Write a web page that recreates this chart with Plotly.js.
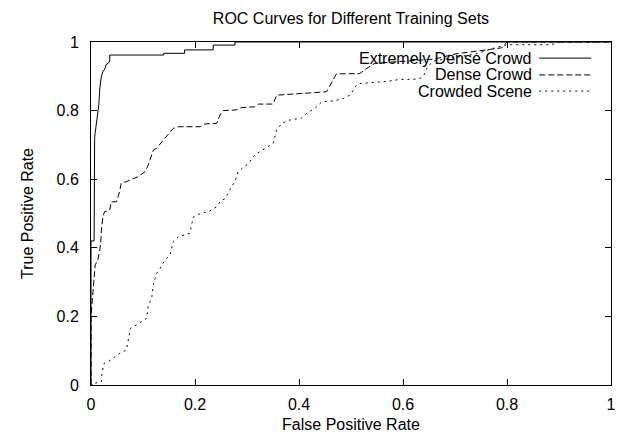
<!DOCTYPE html>
<html>
<head>
<meta charset="utf-8">
<script src="https://cdn.plot.ly/plotly-3.0.1.min.js"></script>
<style>html,body{margin:0;padding:0;background:#fff}#chart{width:619px;height:436px}</style>
</head>
<body>
<div id="chart"></div>
<script>
var seriesNames = ["Extremely Dense Crowd", "Dense Crowd", "Crowded Scene"];

var extremeFPR = [0, 0, 0.006, 0.006, 0.007, 0.008, 0.010, 0.012, 0.013, 0.015, 0.017, 0.018, 0.020, 0.023, 0.026, 0.029, 0.034, 0.036, 0.036, 0.14, 0.14, 0.18, 0.18, 0.235, 0.235, 0.277, 0.277, 1];
var extremeTPR = [0, 0.42, 0.42, 0.66, 0.72, 0.735, 0.759, 0.798, 0.808, 0.817, 0.866, 0.885, 0.9, 0.915, 0.919, 0.934, 0.939, 0.945, 0.962, 0.962, 0.967, 0.967, 0.977, 0.977, 0.991, 0.991, 1, 1];

var denseFPR = [0, 0, 0.002, 0.004, 0.006, 0.008, 0.013, 0.017, 0.019, 0.02, 0.023, 0.026, 0.036, 0.039, 0.049, 0.055, 0.058, 0.068, 0.09, 0.1, 0.104, 0.11, 0.12, 0.126, 0.139, 0.149, 0.158, 0.168, 0.21, 0.219, 0.242, 0.248, 0.254, 0.28, 0.29, 0.315, 0.322, 0.35, 0.357, 0.453, 0.46, 0.472, 0.517, 0.527, 0.546, 0.62, 0.66, 0.7, 0.75, 0.79, 0.8, 1];
var denseTPR = [0, 0.2, 0.238, 0.287, 0.326, 0.35, 0.364, 0.394, 0.423, 0.452, 0.491, 0.505, 0.51, 0.534, 0.534, 0.564, 0.588, 0.593, 0.607, 0.617, 0.622, 0.641, 0.685, 0.69, 0.714, 0.734, 0.748, 0.753, 0.753, 0.761, 0.763, 0.787, 0.8, 0.802, 0.809, 0.811, 0.819, 0.819, 0.845, 0.855, 0.875, 0.907, 0.908, 0.92, 0.938, 0.945, 0.95, 0.965, 0.975, 0.983, 1, 1];

var sceneFPR = [0, 0.008, 0.008, 0.02, 0.021, 0.025, 0.033, 0.042, 0.055, 0.068, 0.072, 0.076, 0.087, 0.097, 0.107, 0.11, 0.113, 0.117, 0.12, 0.126, 0.133, 0.142, 0.152, 0.158, 0.168, 0.181, 0.19, 0.194, 0.197, 0.21, 0.226, 0.242, 0.248, 0.258, 0.264, 0.27, 0.277, 0.283, 0.29, 0.303, 0.315, 0.331, 0.35, 0.357, 0.367, 0.383, 0.405, 0.415, 0.431, 0.444, 0.466, 0.485, 0.498, 0.511, 0.517, 0.569, 0.594, 0.62, 0.633, 0.639, 0.648, 0.66, 0.7, 0.74, 0.77, 0.8, 0.888, 0.89, 1];
var sceneTPR = [0, 0, 0.005, 0.01, 0.034, 0.063, 0.068, 0.078, 0.092, 0.102, 0.131, 0.165, 0.175, 0.185, 0.194, 0.228, 0.243, 0.257, 0.292, 0.325, 0.34, 0.364, 0.379, 0.418, 0.432, 0.437, 0.442, 0.471, 0.49, 0.5, 0.505, 0.52, 0.534, 0.544, 0.563, 0.578, 0.593, 0.622, 0.631, 0.646, 0.671, 0.685, 0.704, 0.743, 0.763, 0.773, 0.778, 0.792, 0.807, 0.826, 0.828, 0.835, 0.845, 0.875, 0.879, 0.885, 0.891, 0.891, 0.894, 0.899, 0.93, 0.945, 0.955, 0.965, 0.98, 0.992, 0.992, 1, 1];

var tickVals = [0, 0.2, 0.4, 0.6, 0.8, 1];
var tickText = ["0", "0.2", "0.4", "0.6", "0.8", "1"];

var dashes = ["solid", "6px,3px", "2px,4px"];
var FONT = "Liberation Sans, Arial, sans-serif";
var FS = 16;

var xs = [extremeFPR, denseFPR, sceneFPR];
var ys = [extremeTPR, denseTPR, sceneTPR];

var traces = seriesNames.map(function (n, i) {
  return {
    x: xs[i], y: ys[i], name: n, type: "scatter", mode: "lines",
    line: {color: "#000", width: 1, dash: dashes[i], shape: "linear"},
    showlegend: false, hoverinfo: "skip"
  };
});

var legY = [0.953, 0.904, 0.857];
var annotations = seriesNames.map(function (n, i) {
  return {
    xref: "paper", yref: "paper", x: 0.852, y: legY[i], xanchor: "right", yanchor: "middle",
    text: n, showarrow: false, font: {family: FONT, size: FS, color: "#000"}
  };
});
var shapes = seriesNames.map(function (n, i) {
  return {
    type: "line", xref: "paper", yref: "paper", x0: 0.862, x1: 0.962, y0: legY[i], y1: legY[i],
    line: {color: "#000", width: 1, dash: dashes[i]}
  };
});

var axisCommon = {
  range: [0, 1], tickvals: tickVals, ticktext: tickText, ticks: "inside", ticklen: 6,
  tickwidth: 1, tickcolor: "#000", showline: true, linecolor: "#000", linewidth: 1,
  mirror: "ticks", showgrid: false, zeroline: false,
  tickfont: {family: FONT, size: FS, color: "#000"}, fixedrange: true
};

var layout = {
  width: 619, height: 436,
  margin: {l: 91, r: 8, t: 42, b: 51, pad: 0},
  paper_bgcolor: "#fff", plot_bgcolor: "#fff",
  font: {family: FONT, size: FS, color: "#000"},
  title: {text: "ROC Curves for Different Training Sets", x: 0.567, xanchor: "center", y: 0.958, yanchor: "middle",
          font: {family: FONT, size: FS, color: "#000"}},
  xaxis: Object.assign({}, axisCommon, {
    title: {text: "False Positive Rate", standoff: 6, font: {family: FONT, size: FS, color: "#000"}},
    ticklabelstandoff: 5
  }),
  yaxis: Object.assign({}, axisCommon, {
    title: {text: "True Positive Rate", standoff: 18, font: {family: FONT, size: FS, color: "#000"}},
    ticklabelstandoff: 8
  }),
  annotations: annotations,
  shapes: shapes,
  showlegend: false
};

Plotly.newPlot("chart", traces, layout, {staticPlot: true, displayModeBar: false});
</script>
</body>
</html>
